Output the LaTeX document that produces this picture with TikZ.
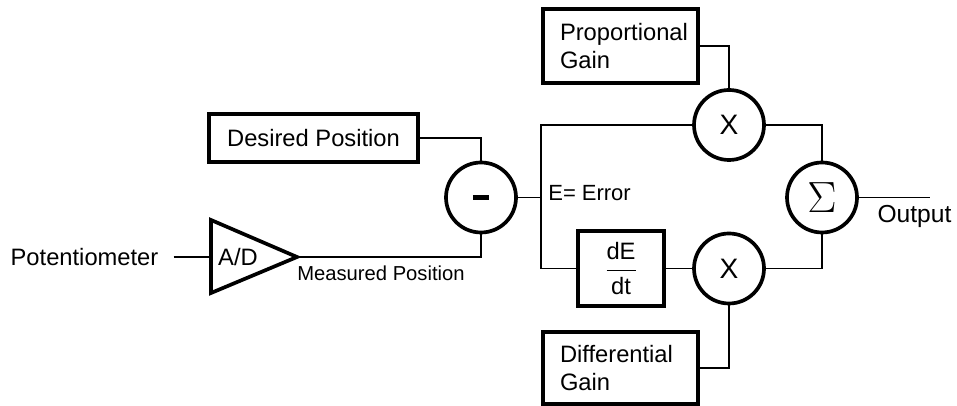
\documentclass[tikz,border=0pt]{standalone}
\usepackage[no-math]{fontspec}
\setmainfont{Liberation Sans}
\usepackage{amsmath}
\usetikzlibrary{positioning, calc}

\begin{document}
\begin{tikzpicture}[
  font=\fontsize{13.5}{15.5}\selectfont,
  blockbox/.style={draw, line width=2.1pt, inner sep=0pt},
  gainbox/.style={blockbox, minimum width=3.1cm, text width=2.42cm, align=left},
  opcircle/.style={draw, circle, line width=2.1pt, minimum size=1.4cm, inner sep=0pt},
  wire/.style={line width=0.9pt}
]
  \useasboundingbox (0,0) rectangle (19.14,8.12);

  % Input side
  \node[inner sep=0pt] (pot) at (1.69,2.98) {Potentiometer};
  \coordinate (adin) at (4.22,2.98);
  \coordinate (adout) at (5.94,2.98);
  \draw[line width=2.1pt, line join=miter] (4.22,3.72) -- (adout) -- (4.22,2.26) -- cycle;
  \node (adlabel) at (4.76,2.98) {A/D};
  \draw[wire] ($(pot.east)+(0.3,0)$) -- (adin);
  \node[font=\fontsize{11.5}{13}\selectfont] (measured) at (7.62,2.66) {Measured Position};

  % Comparator
  \node[blockbox, minimum width=4.18cm, minimum height=0.96cm] (desired) at (6.27,5.36) {Desired Position};
  \node[opcircle] (minus) at (9.62,4.17) {\rule[-0.045cm]{0.33cm}{0.09cm}};
  \draw[wire] (desired.east) -| (minus.north);
  \draw[wire] (adout) -| (minus.south);

  % Proportional path
  \node[gainbox, minimum height=1.48cm] (propgain) at (12.41,7.2) {Proportional\\Gain};
  \node[opcircle, font=\fontsize{16}{16}\selectfont] (topx) at (14.58,5.62) {X};
  \draw[wire] (propgain.east) -| (topx.north);

  % Differential path
  \node[blockbox, minimum width=1.72cm, minimum height=1.5cm] (ddt) at (12.42,2.75) {$\dfrac{\text{dE}}{\text{dt}}$};
  \node[opcircle, font=\fontsize{16}{16}\selectfont] (botx) at (14.58,2.75) {X};
  \node[gainbox, minimum height=1.44cm] (diffgain) at (12.41,0.76) {Differential\\Gain};
  \draw[wire] (ddt.east) -- (botx.west);
  \draw[wire] (diffgain.east) -| (botx.south);

  % Error branch
  \coordinate (etop) at (10.82,5.62);
  \coordinate (ebot) at (10.82,2.75);
  \draw[wire] (minus.east) -- (minus.east -| etop);
  \draw[wire] (topx.west) -| (ebot) -- (ddt.west);
  \node[anchor=west, inner sep=0pt, font=\fontsize{12.5}{14}\selectfont] (error) at (10.96,4.26) {E= Error};

  % Summing
  \node[opcircle] (sigma) at (16.44,4.17) {\fontsize{25}{25}\selectfont$\Sigma$};
  \draw[wire] (topx.east) -| (sigma.north);
  \draw[wire] (botx.east) -| (sigma.south);
  \coordinate (out) at (18.6,4.17);
  \draw[wire] (sigma.east) -- (out);
  \node[font=\fontsize{14}{16}\selectfont] (output) at (18.29,3.8) {Output};
\end{tikzpicture}
\end{document}
